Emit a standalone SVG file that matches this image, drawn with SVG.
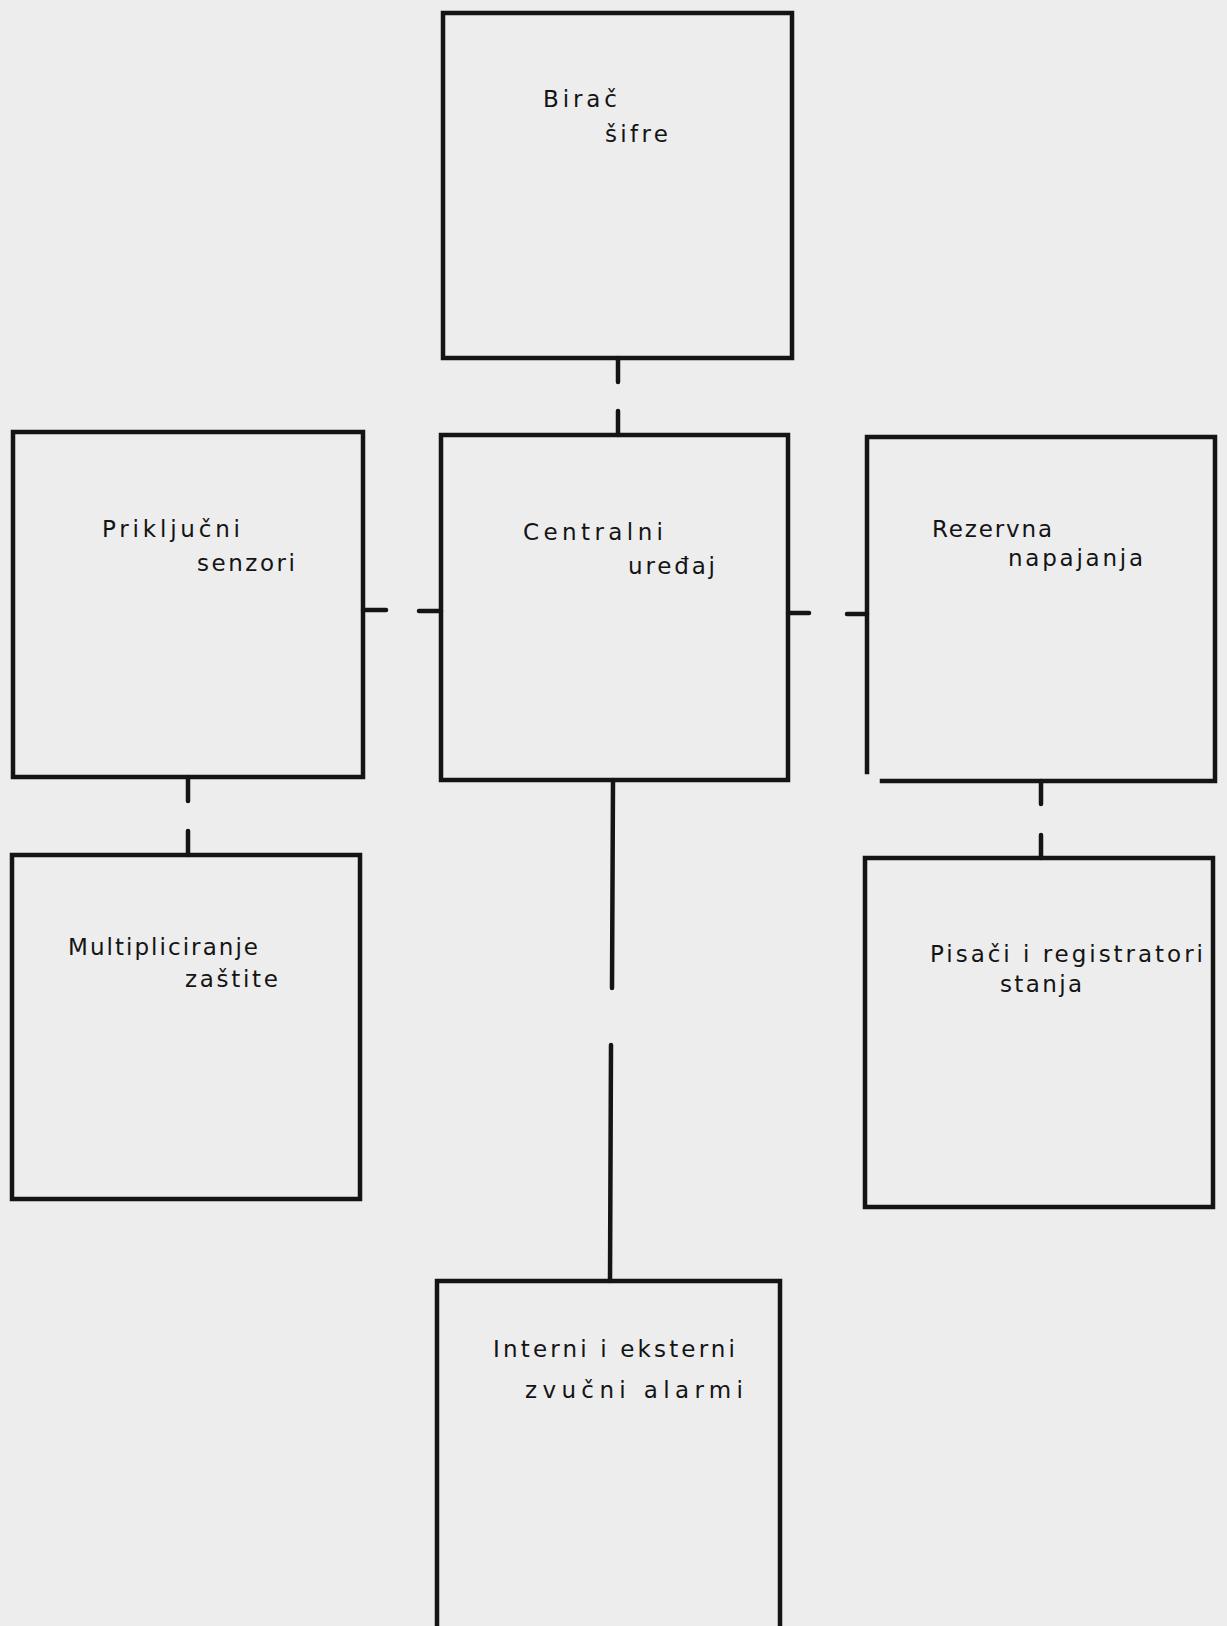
<svg xmlns="http://www.w3.org/2000/svg" width="1227" height="1626" viewBox="0 0 1227 1626">
<style>
.box{fill:none;stroke:#141414;stroke-width:4.5;stroke-linecap:square}
.con{fill:none;stroke:#141414;stroke-width:4.5;stroke-linecap:round}
.t{font-family:"DejaVu Sans","Liberation Sans",sans-serif;font-size:23px;fill:#141414}
</style>
<rect width="1227" height="1626" fill="#ededee"/>
<g id="connectors">
<line class="con" x1="618" y1="358" x2="618" y2="382"/>
<line class="con" x1="618" y1="411" x2="618" y2="435"/>
<line class="con" x1="363" y1="610" x2="386" y2="610"/>
<line class="con" x1="419" y1="611" x2="441" y2="611"/>
<line class="con" x1="788" y1="613" x2="809" y2="613"/>
<line class="con" x1="847" y1="614" x2="867" y2="614"/>
<line class="con" x1="188" y1="777" x2="188" y2="801"/>
<line class="con" x1="188" y1="831" x2="188" y2="855"/>
<line class="con" x1="1041" y1="781" x2="1041" y2="804"/>
<line class="con" x1="1041" y1="835" x2="1041" y2="858"/>
<line class="con" x1="613" y1="780" x2="612" y2="988"/>
<line class="con" x1="611" y1="1045" x2="610" y2="1281"/>
</g>
<g id="birac">
<rect class="box" x="443" y="13" width="349" height="345"/>
<text class="t" x="543" y="107" textLength="74" lengthAdjust="spacing">Birač</text>
<text class="t" x="605" y="142" textLength="63" lengthAdjust="spacing">šifre</text>
</g>
<g id="prikljucni">
<rect class="box" x="13" y="432" width="350" height="345"/>
<text class="t" x="102" y="537" textLength="138" lengthAdjust="spacing">Priključni</text>
<text class="t" x="197" y="571" textLength="98" lengthAdjust="spacing">senzori</text>
</g>
<g id="centralni">
<rect class="box" x="441" y="435" width="347" height="345"/>
<text class="t" x="523" y="540" textLength="140" lengthAdjust="spacing">Centralni</text>
<text class="t" x="628" y="574" textLength="87" lengthAdjust="spacing">uređaj</text>
</g>
<g id="rezervna">
<path class="box" d="M882,781 H1215 V437 H867 V772"/>
<text class="t" x="932" y="537" textLength="120" lengthAdjust="spacing">Rezervna</text>
<text class="t" x="1008" y="566" textLength="135" lengthAdjust="spacing">napajanja</text>
</g>
<g id="multipliciranje">
<rect class="box" x="12" y="855" width="348" height="344"/>
<text class="t" x="68" y="955" textLength="190" lengthAdjust="spacing">Multipliciranje</text>
<text class="t" x="185" y="987" textLength="93" lengthAdjust="spacing">zaštite</text>
</g>
<g id="pisaci">
<rect class="box" x="865" y="858" width="348" height="349"/>
<text class="t" x="930" y="962" textLength="273" lengthAdjust="spacing">Pisači i registratori</text>
<text class="t" x="1000" y="992" textLength="82" lengthAdjust="spacing">stanja</text>
</g>
<g id="alarmi">
<path class="box" d="M437,1630 V1281 H780 V1630"/>
<text class="t" x="493" y="1357" textLength="242" lengthAdjust="spacing">Interni i eksterni</text>
<text class="t" x="525" y="1398" textLength="218" lengthAdjust="spacing">zvučni alarmi</text>
</g>
</svg>
